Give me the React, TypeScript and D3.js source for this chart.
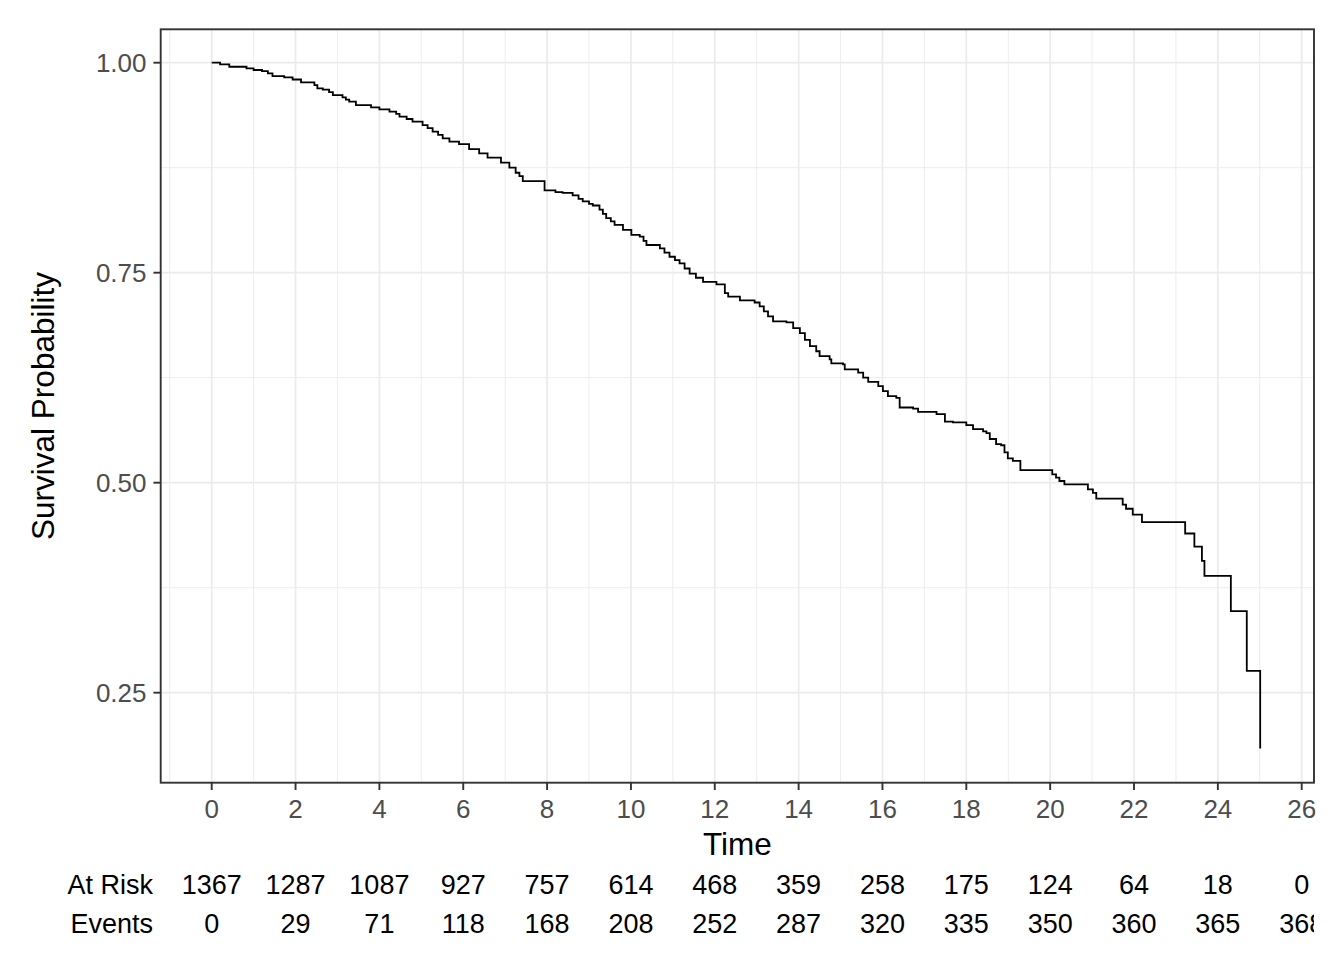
import React from "react";
import * as d3 from "d3";

// Kaplan-Meier step data: time at which survival drops, and new survival value
const stepTimes = [
  0, 0.2, 0.42, 0.83, 1.0, 1.2, 1.34, 1.45, 1.73, 1.93, 2.13, 2.45, 2.52, 2.65, 2.8, 2.89,
  3.12, 3.2, 3.28, 3.44, 3.8, 4.0, 4.24, 4.4, 4.48, 4.65, 4.79, 5.03, 5.15, 5.27, 5.4,
  5.51, 5.67, 5.9, 6.14, 6.38, 6.58, 6.9, 7.1, 7.25, 7.34, 7.42, 7.94, 8.2, 8.37, 8.61,
  8.75, 8.85, 9.0, 9.09, 9.25, 9.33, 9.41, 9.52, 9.61, 9.81, 10.01, 10.21, 10.3, 10.37,
  10.69, 10.8, 10.92, 11.05, 11.16, 11.28, 11.4, 11.55, 11.72, 12.04, 12.24, 12.32, 12.6,
  12.95, 13.07, 13.17, 13.27, 13.39, 13.71, 13.87, 14.03, 14.15, 14.27, 14.42, 14.5, 14.74,
  14.78, 15.06, 15.1, 15.42, 15.54, 15.66, 15.9, 16.01, 16.13, 16.33, 16.41, 16.73, 16.85,
  17.29, 17.49, 17.68, 18.0, 18.16, 18.4, 18.48, 18.56, 18.71, 18.83, 18.91, 18.99, 19.11,
  19.29, 20.05, 20.14, 20.22, 20.34, 20.9, 21.02, 21.1, 21.73, 21.81, 21.97, 22.19, 23.22,
  23.44, 23.62, 23.68, 24.31, 24.69, 25.01,
];
const stepSurv = [
  1.0, 0.998, 0.9952, 0.9933, 0.9913, 0.99, 0.9873, 0.984, 0.9825, 0.98, 0.9766, 0.9734,
  0.9694, 0.968, 0.965, 0.9615, 0.9587, 0.956, 0.9536, 0.9496, 0.9468, 0.9444, 0.9417, 0.939,
  0.9357, 0.933, 0.9298, 0.9258, 0.922, 0.9179, 0.914, 0.91, 0.906, 0.903, 0.897, 0.892,
  0.887, 0.881, 0.875, 0.869, 0.865, 0.859, 0.848, 0.846, 0.845, 0.842, 0.838, 0.835, 0.832,
  0.83, 0.825, 0.82, 0.815, 0.811, 0.807, 0.801, 0.795, 0.793, 0.788, 0.783, 0.779, 0.774,
  0.769, 0.765, 0.761, 0.755, 0.749, 0.744, 0.739, 0.736, 0.7256, 0.7216, 0.717, 0.7145,
  0.71, 0.704, 0.698, 0.692, 0.6908, 0.684, 0.678, 0.67, 0.6625, 0.6565, 0.6506, 0.6467,
  0.642, 0.6408, 0.635, 0.631, 0.625, 0.62, 0.615, 0.609, 0.603, 0.601, 0.5895, 0.5883,
  0.5844, 0.5816, 0.5726, 0.5718, 0.5686, 0.5638, 0.561, 0.559, 0.552, 0.546, 0.5446, 0.536,
  0.529, 0.526, 0.515, 0.51, 0.506, 0.502, 0.498, 0.492, 0.488, 0.481, 0.474, 0.469, 0.462,
  0.453, 0.4395, 0.424, 0.407, 0.389, 0.347, 0.276, 0.1836,
];

const xTicks = [0, 2, 4, 6, 8, 10, 12, 14, 16, 18, 20, 22, 24, 26];
const xMinor = [-1, 1, 3, 5, 7, 9, 11, 13, 15, 17, 19, 21, 23, 25];
const yTicks = [0.25, 0.5, 0.75, 1.0];
const yMinor = [0.375, 0.625, 0.875];
const atRisk = [1367, 1287, 1087, 927, 757, 614, 468, 359, 258, 175, 124, 64, 18, 0];
const events = [0, 29, 71, 118, 168, 208, 252, 287, 320, 335, 350, 360, 365, 368];

const W = 1344;
const H = 960;
const P = { left: 160.7, right: 1314, top: 29.3, bottom: 782.7 };
const FONT = "'Liberation Sans', Arial, Helvetica, sans-serif";

export default function App() {
  const x = d3.scaleLinear().domain([0, 26]).range([211.7, 1301.7]);
  const y = d3.scaleLinear().domain([0.25, 1]).range([692.7, 62.7]);

  const pts: [number, number][] = stepTimes.map((t, i) => [t, stepSurv[i]]);
  const line = d3
    .line<[number, number]>()
    .x((d) => x(d[0]))
    .y((d) => y(d[1]))
    .curve(d3.curveStepAfter);

  const gridColor = "#EBEBEB";
  const tickFs = 26;
  const riskFs = 27;
  const titleFs = 31.5;

  return (
    <svg
      width={W}
      height={H}
      viewBox={`0 0 ${W} ${H}`}
      style={{ position: "absolute", left: 0, top: 0, background: "#fff" }}
    >
      <defs>
        <clipPath id="panelClip">
          <rect x={P.left} y={P.top} width={P.right - P.left} height={P.bottom - P.top} />
        </clipPath>
        <clipPath id="tableClip">
          <rect x={0} y={850} width={P.right} height={110} />
        </clipPath>
      </defs>
      <rect x={0} y={0} width={W} height={H} fill="#fff" />
      {/* grid */}
      <g clipPath="url(#panelClip)">
        {yMinor.map((v) => (
          <line key={"ym" + v} x1={P.left} x2={P.right} y1={y(v)} y2={y(v)} stroke={gridColor} strokeWidth={0.9} />
        ))}
        {xMinor.map((v) => (
          <line key={"xm" + v} x1={x(v)} x2={x(v)} y1={P.top} y2={P.bottom} stroke={gridColor} strokeWidth={0.9} />
        ))}
        {yTicks.map((v) => (
          <line key={"yM" + v} x1={P.left} x2={P.right} y1={y(v)} y2={y(v)} stroke={gridColor} strokeWidth={1.7} />
        ))}
        {xTicks.map((v) => (
          <line key={"xM" + v} x1={x(v)} x2={x(v)} y1={P.top} y2={P.bottom} stroke={gridColor} strokeWidth={1.7} />
        ))}
        <path d={line(pts) || ""} fill="none" stroke="#000" strokeWidth={1.8} />
      </g>
      {/* border */}
      <rect
        x={P.left}
        y={P.top}
        width={P.right - P.left}
        height={P.bottom - P.top}
        fill="none"
        stroke="#333333"
        strokeWidth={1.9}
      />
      {/* y ticks */}
      {yTicks.map((v) => (
        <g key={"yt" + v}>
          <line x1={P.left - 7.3} x2={P.left} y1={y(v)} y2={y(v)} stroke="#333333" strokeWidth={1.9} />
          <text
            x={146.5}
            y={y(v) + 9.4}
            textAnchor="end"
            fontFamily={FONT}
            fontSize={tickFs}
            fill="#4D4D4D"
          >
            {v.toFixed(2)}
          </text>
        </g>
      ))}
      {/* x ticks */}
      {xTicks.map((v) => (
        <g key={"xt" + v}>
          <line x1={x(v)} x2={x(v)} y1={P.bottom} y2={P.bottom + 7.3} stroke="#333333" strokeWidth={1.9} />
          <text x={x(v)} y={817.5} textAnchor="middle" fontFamily={FONT} fontSize={tickFs} fill="#4D4D4D">
            {v}
          </text>
        </g>
      ))}
      {/* axis titles */}
      <text x={(P.left + P.right) / 2} y={854.5} textAnchor="middle" fontFamily={FONT} fontSize={titleFs} fill="#000">
        Time
      </text>
      <text
        transform={`translate(54,${(P.top + P.bottom) / 2}) rotate(-90)`}
        textAnchor="middle"
        fontFamily={FONT}
        fontSize={titleFs}
        fill="#000"
      >
        Survival Probability
      </text>
      {/* risk table */}
      <text x={153} y={894} textAnchor="end" fontFamily={FONT} fontSize={riskFs} fill="#000">
        At Risk
      </text>
      <text x={153} y={933} textAnchor="end" fontFamily={FONT} fontSize={riskFs} fill="#000">
        Events
      </text>
      <g clipPath="url(#tableClip)">
        {xTicks.map((v, i) => (
          <text key={"ar" + v} x={x(v)} y={894} textAnchor="middle" fontFamily={FONT} fontSize={riskFs} fill="#000">
            {atRisk[i]}
          </text>
        ))}
        {xTicks.map((v, i) => (
          <text key={"ev" + v} x={x(v)} y={933} textAnchor="middle" fontFamily={FONT} fontSize={riskFs} fill="#000">
            {events[i]}
          </text>
        ))}
      </g>
    </svg>
  );
}
